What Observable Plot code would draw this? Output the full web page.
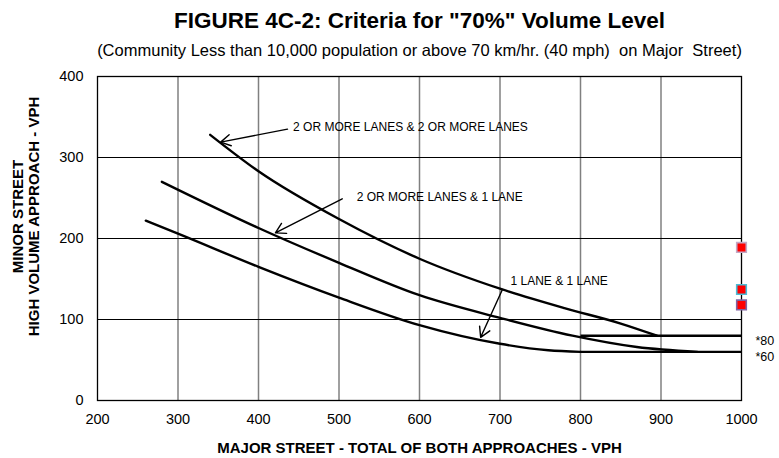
<!DOCTYPE html>
<html>
<head>
<meta charset="utf-8">
<script src="https://cdn.jsdelivr.net/npm/d3@7"></script>
<script src="https://cdn.jsdelivr.net/npm/@observablehq/plot@0.6"></script>
<style>
  html, body { margin: 0; padding: 0; background: #fff; }
  #chart svg { display: block; }
</style>
</head>
<body>
<div id="chart"></div>
<script>
const titleText = 'FIGURE 4C-2: Criteria for "70%" Volume Level';
const subtitleText = "(Community Less than 10,000 population or above 70 km/hr. (40 mph)  on Major  Street)";
const xLabel = "MAJOR STREET - TOTAL OF BOTH APPROACHES - VPH";
const yLabel = "MINOR STREET\nHIGH VOLUME APPROACH - VPH";

const xTicks = [200, 300, 400, 500, 600, 700, 800, 900, 1000];
const yTicks = [0, 100, 200, 300, 400];

// 2 or more lanes & 2 or more lanes
const curveTwoTwoX = [340, 400, 500, 600, 700, 780, 850, 895];
const curveTwoTwoY = [328, 283, 224, 175, 138, 114, 95, 80];
// 2 or more lanes & 1 lane
const curveTwoOneX = [280, 400, 500, 600, 700, 790, 870, 945];
const curveTwoOneY = [270, 213, 170, 130, 102, 80, 66, 60];
// 1 lane & 1 lane
const curveOneOneX = [260, 300, 400, 500, 600, 700, 760, 800];
const curveOneOneY = [222, 206, 165, 127, 93, 70, 62, 60];

// lower thresholds
const thresholdValues = [80, 60];
const thresholdStartX = [800, 800];
const thresholdEndX = [1000, 1000];
const thresholdLabels = ["*80", "*60"];

// points at major street 1000
const markerX = [1000, 1000, 1000];
const markerY = [189, 137, 118];
const markerStroke = ["#c3a9c6", "#4bbcd6", "#8064a2"];

// annotations
const annoText = ["2 OR MORE LANES & 2 OR MORE LANES", "2 OR MORE LANES & 1 LANE", "1 LANE & 1 LANE"];
const annoTextX = [443, 522, 713];
const annoTextY = [338, 251, 147];
const arrowFromX = [436, 504, 703];
const arrowFromY = [335, 249, 137];
const arrowToX = [353, 421, 676];
const arrowToY = [319, 207, 78];

const toPts = (xs, ys) => xs.map((x, i) => ({x, y: ys[i]}));
const curves = [
  toPts(curveTwoTwoX, curveTwoTwoY),
  toPts(curveTwoOneX, curveTwoOneY),
  toPts(curveOneOneX, curveOneOneY)
];
const thresholds = thresholdValues.map((v, i) => ({x1: thresholdStartX[i], x2: thresholdEndX[i], y: v, label: thresholdLabels[i]}));
const markers = markerX.map((x, i) => ({x, y: markerY[i], stroke: markerStroke[i]}));
const annos = annoText.map((t, i) => ({text: t, x: annoTextX[i], y: annoTextY[i], x1: arrowFromX[i], y1: arrowFromY[i], x2: arrowToX[i], y2: arrowToY[i]}));

const font = "'Liberation Sans', Arial, Helvetica, sans-serif";

const chart = Plot.plot({
  width: 779,
  height: 458,
  marginLeft: 97,
  marginRight: 38,
  marginTop: 76,
  marginBottom: 58,
  style: {fontFamily: font, background: "#fff", color: "#000"},
  x: {domain: [200, 1000]},
  y: {domain: [0, 400]},
  marks: [
    Plot.ruleX(xTicks.slice(1, -1), {stroke: "#808080", strokeWidth: 1.5}),
    Plot.ruleY(yTicks.slice(1, -1), {stroke: "#000", strokeWidth: 1}),
    Plot.frame({stroke: "#000", strokeWidth: 1.3}),
    Plot.axisX({ticks: xTicks, tickSize: 0, tickPadding: 13, fontSize: 14.5, label: null, tickFormat: d => String(d)}),
    Plot.axisY({ticks: yTicks, tickSize: 0, tickPadding: 14, fontSize: 14.5, label: null, tickFormat: d => String(d)}),
    ...curves.map(c => Plot.line(c, {x: "x", y: "y", curve: "monotone-x", stroke: "#000", strokeWidth: 2.4})),
    Plot.link(thresholds, {x1: "x1", x2: "x2", y1: "y", y2: "y", stroke: "#000", strokeWidth: 2.4}),
    Plot.text(thresholds, {x: "x2", y: "y", text: "label", textAnchor: "start", dx: 14, dy: 5, fontSize: 12.5, fill: "#000"}),
    Plot.dot(markers, {x: "x", y: "y", symbol: "square", r: 5.4, fill: "#ff0000", stroke: "stroke", strokeWidth: 1.6}),
    Plot.arrow(annos, {x1: "x1", y1: "y1", x2: "x2", y2: "y2", stroke: "#000", strokeWidth: 1.4, headLength: 12, bend: 0}),
    Plot.text(annos, {x: "x", y: "y", text: "text", textAnchor: "start", fontSize: 12, fill: "#000"}),
    Plot.text([titleText], {frameAnchor: "top", lineAnchor: "middle", textAnchor: "middle", dy: -56, fontSize: 22.5, fontWeight: "bold", fill: "#000"}),
    Plot.text([subtitleText], {frameAnchor: "top", lineAnchor: "middle", textAnchor: "middle", dy: -26, fontSize: 16.5, fill: "#000"}),
    Plot.text([xLabel], {frameAnchor: "bottom", lineAnchor: "middle", textAnchor: "middle", dy: 48, fontSize: 15, fontWeight: "bold", fill: "#000"}),
    Plot.text([yLabel], {frameAnchor: "left", lineAnchor: "middle", textAnchor: "middle", dx: -72, dy: -22, rotate: -90, fontSize: 15, fontWeight: "bold", lineHeight: 1.1, fill: "#000"})
  ]
});
document.getElementById("chart").appendChild(chart);
</script>
</body>
</html>
